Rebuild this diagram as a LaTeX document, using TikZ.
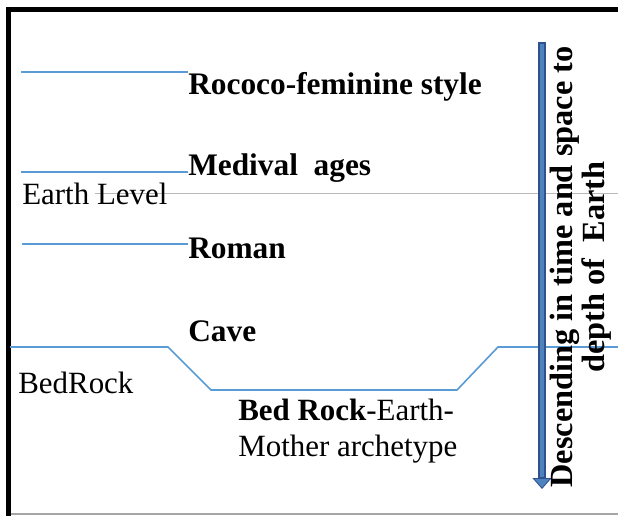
\documentclass[tikz,border=0pt]{standalone}
\usepackage{fontspec}
\setmainfont{Liberation Serif}
\usepackage{tikz}
\usetikzlibrary{arrows.meta}
\definecolor{layerblue}{RGB}{91,155,213}
\definecolor{arrowfill}{RGB}{79,129,189}
\definecolor{arrowedge}{RGB}{47,82,143}
\definecolor{earthgray}{RGB}{185,185,185}

\tikzset{
    layerline/.style={layerblue, line width=1.15pt},
    era/.style={anchor=base west, inner sep=0pt, font=\fontsize{22.3}{26}\selectfont\bfseries},
    plain/.style={anchor=base west, inner sep=0pt, font=\fontsize{22}{26}\selectfont},
}

\begin{document}
\begin{tikzpicture}[x=0.025cm, y=-0.025cm]
    \useasboundingbox (0,0) rectangle (618,516);

    % Frame
    \draw[line width=3.6pt] (8.5,516) -- (8.5,9.5) -- (618,9.5);
    \draw[gray!70, line width=1.1pt] (11,514) -- (618,514);

    % Earth level
    \coordinate (earthL) at (95,193);
    \coordinate (earthR) at (618,193);
    \draw[earthgray, line width=0.7pt] (earthL) -- (earthR);
    \node[plain] (earth) at (22,204) {Earth Level};

    % Ages
    \node[era] (rococo) at (188,94) {Rococo-feminine style};
    \node[era] (medival) at (188,175) {Medival\ \ ages};
    \node[era] (roman) at (188,258) {Roman};
    \node[era] (cave) at (188,341) {Cave};

    \coordinate (rococoL) at (21,72);
    \coordinate (medivalL) at (21,172);
    \coordinate (romanL) at (22,244);
    \draw[layerline] (rococoL) -- (rococoL -| rococo.west);
    \draw[layerline] (medivalL) -- (medivalL -| medival.west);
    \draw[layerline] (romanL) -- (romanL -| roman.west);

    % Bed rock
    \coordinate (rockA) at (10,347);
    \coordinate (rockB) at (168,347);
    \coordinate (rockC) at (211,390);
    \coordinate (rockD) at (457,390);
    \coordinate (rockE) at (498,347);
    \coordinate (rockF) at (618,347);
    \draw[layerline] (rockA) -- (rockB) -- (rockC) -- (rockD) -- (rockE) -- (rockF);
    \node[plain] (bedrock) at (18,393) {BedRock};
    \node[plain, align=left, font=\fontsize{22}{25.6}\selectfont] (mother) at (238,456)
        {\textbf{Bed Rock}-Earth-\\Mother archetype};

    % Descent
    \coordinate (arrtop) at (542,42);
    \coordinate (arrtip) at (542,489);
    \draw[arrowedge, line width=5.3pt,
        -{Triangle[length=7.8pt, width=13.5pt, line width=0.6pt, fill=arrowfill]}] (arrtop) -- (arrtip);
    \draw[arrowfill, line width=2.85pt, shorten <=1.2pt, shorten >=8.5pt] (arrtop) -- (arrtip);
    \node[rotate=90, inner sep=0pt, align=center, font=\fontsize{23}{22.8}\selectfont\bfseries]
        (descent) at (581,267) {Descending in time and space to\\depth of\ \ Earth};
\end{tikzpicture}
\end{document}
